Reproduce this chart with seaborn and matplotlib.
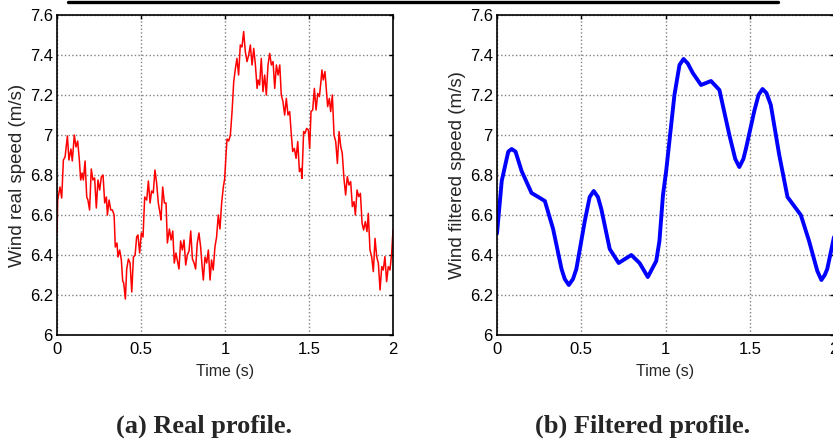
import numpy as np
import pandas as pd
import matplotlib
matplotlib.use("Agg")
import matplotlib.pyplot as plt
import seaborn as sns
from matplotlib.lines import Line2D
from matplotlib.ticker import FormatStrFormatter

# real wind speed profile
time_real = [0.000, 0.004, 0.018, 0.028, 0.038, 0.048, 0.062, 0.071, 0.083, 0.091,
             0.103, 0.113, 0.123, 0.133, 0.141, 0.149, 0.157, 0.167, 0.177, 0.184,
             0.194, 0.204, 0.214, 0.224, 0.234, 0.244, 0.254, 0.264, 0.274, 0.284,
             0.294, 0.300, 0.310, 0.320, 0.330, 0.340, 0.347, 0.357, 0.363, 0.373,
             0.383, 0.391, 0.397, 0.407, 0.415, 0.425, 0.435, 0.445, 0.455, 0.465,
             0.474, 0.482, 0.492, 0.502, 0.512, 0.522, 0.534, 0.544, 0.554, 0.563,
             0.573, 0.583, 0.593, 0.603, 0.613, 0.619, 0.629, 0.639, 0.649, 0.657,
             0.669, 0.679, 0.689, 0.698, 0.708, 0.716, 0.726, 0.736, 0.746, 0.756,
             0.766, 0.776, 0.786, 0.796, 0.806, 0.816, 0.825, 0.835, 0.845, 0.855,
             0.865, 0.871, 0.881, 0.891, 0.901, 0.911, 0.920, 0.930, 0.940, 0.950,
             0.960, 0.970, 0.980, 0.990, 0.998, 1.006, 1.012, 1.022, 1.032, 1.042,
             1.052, 1.062, 1.071, 1.081, 1.091, 1.101, 1.111, 1.121, 1.131, 1.141,
             1.151, 1.161, 1.171, 1.181, 1.191, 1.197, 1.206, 1.216, 1.226, 1.236,
             1.246, 1.256, 1.266, 1.276, 1.286, 1.296, 1.306, 1.316, 1.326, 1.335,
             1.345, 1.355, 1.365, 1.375, 1.385, 1.395, 1.403, 1.413, 1.423, 1.433,
             1.443, 1.453, 1.458, 1.468, 1.476, 1.486, 1.496, 1.504, 1.512, 1.522,
             1.532, 1.542, 1.552, 1.562, 1.571, 1.577, 1.585, 1.595, 1.605, 1.611,
             1.621, 1.629, 1.639, 1.649, 1.659, 1.669, 1.679, 1.689, 1.698, 1.708,
             1.718, 1.728, 1.738, 1.748, 1.758, 1.768, 1.776, 1.786, 1.796, 1.806,
             1.816, 1.825, 1.835, 1.845, 1.853, 1.863, 1.873, 1.883, 1.893, 1.903,
             1.913, 1.923, 1.933, 1.942, 1.952, 1.962, 1.972, 1.982, 1.992, 2.000]
speed_real = [6.51, 6.675, 6.74, 6.685, 6.875, 6.89, 6.995, 6.875, 6.93, 6.87,
              7.00, 6.94, 6.97, 6.875, 6.775, 6.81, 6.775, 6.87, 6.69, 6.675,
              6.625, 6.83, 6.775, 6.785, 6.635, 6.775, 6.725, 6.79, 6.80, 6.66,
              6.69, 6.60, 6.675, 6.625, 6.625, 6.60, 6.44, 6.46, 6.39, 6.425,
              6.375, 6.27, 6.26, 6.18, 6.33, 6.38, 6.36, 6.215, 6.39, 6.40,
              6.49, 6.50, 6.41, 6.51, 6.49, 6.69, 6.675, 6.77, 6.66, 6.72,
              6.71, 6.825, 6.76, 6.66, 6.61, 6.575, 6.74, 6.66, 6.66, 6.46,
              6.53, 6.475, 6.52, 6.36, 6.41, 6.375, 6.33, 6.47, 6.425, 6.475,
              6.35, 6.40, 6.42, 6.52, 6.38, 6.36, 6.33, 6.46, 6.51, 6.44,
              6.33, 6.275, 6.39, 6.36, 6.425, 6.275, 6.375, 6.325, 6.44, 6.49,
              6.60, 6.53, 6.66, 6.74, 6.78, 6.90, 6.98, 6.97, 7.00, 7.117,
              7.267, 7.333, 7.383, 7.30, 7.45, 7.44, 7.517, 7.417, 7.367, 7.40,
              7.45, 7.35, 7.433, 7.35, 7.233, 7.275, 7.25, 7.383, 7.217, 7.30,
              7.20, 7.35, 7.408, 7.35, 7.367, 7.233, 7.35, 7.30, 7.35, 7.20,
              7.167, 7.10, 7.183, 7.10, 7.117, 7.00, 6.917, 6.933, 6.883, 6.967,
              6.817, 6.833, 6.783, 7.017, 7.008, 7.033, 7.025, 6.933, 7.117, 7.125,
              7.233, 7.125, 7.208, 7.192, 7.267, 7.325, 7.275, 7.317, 7.208, 7.142,
              7.183, 7.117, 7.20, 7.00, 6.967, 6.858, 7.017, 6.942, 6.908, 6.783,
              6.70, 6.792, 6.75, 6.767, 6.642, 6.667, 6.60, 6.725, 6.692, 6.708,
              6.558, 6.525, 6.567, 6.517, 6.608, 6.425, 6.392, 6.317, 6.483, 6.392,
              6.358, 6.225, 6.342, 6.325, 6.392, 6.267, 6.342, 6.325, 6.408, 6.525]

# filtered wind speed profile
time_filt = [0.000, 0.028, 0.057, 0.067, 0.087, 0.110, 0.146, 0.205, 0.245, 0.284,
             0.333, 0.383, 0.402, 0.426, 0.451, 0.471, 0.521, 0.550, 0.574, 0.599,
             0.619, 0.669, 0.722, 0.797, 0.846, 0.895, 0.945, 0.964, 0.985, 1.004,
             1.053, 1.083, 1.107, 1.132, 1.162, 1.211, 1.270, 1.320, 1.379, 1.414,
             1.438, 1.462, 1.477, 1.527, 1.552, 1.576, 1.599, 1.625, 1.675, 1.724,
             1.803, 1.852, 1.901, 1.925, 1.945, 1.960, 2.000]
speed_filt = [6.508, 6.77, 6.88, 6.917, 6.93, 6.917, 6.82, 6.71, 6.69, 6.67,
              6.53, 6.33, 6.28, 6.25, 6.28, 6.33, 6.57, 6.69, 6.72, 6.69,
              6.63, 6.43, 6.36, 6.40, 6.36, 6.29, 6.37, 6.47, 6.70, 6.82,
              7.20, 7.35, 7.38, 7.358, 7.31, 7.25, 7.27, 7.225, 7.00, 6.88,
              6.84, 6.88, 6.93, 7.12, 7.20, 7.23, 7.21, 7.15, 6.90, 6.69,
              6.60, 6.47, 6.32, 6.275, 6.30, 6.33, 6.49]

yticks = [6, 6.2, 6.4, 6.6, 6.8, 7, 7.2, 7.4, 7.6]
xticks = [0, 0.5, 1, 1.5, 2]

real_df = pd.DataFrame({"time": time_real, "speed": speed_real})
filt_df = pd.DataFrame({"time": time_filt, "speed": speed_filt})

sns.set_style("white")
plt.rcParams['font.family'] = ['Liberation Sans', 'DejaVu Sans']

fig = plt.figure(figsize=(8.33, 4.41), dpi=100)
ax1 = fig.add_axes([57 / 833, 1 - 335 / 441, 336 / 833, 320 / 441])
ax2 = fig.add_axes([497 / 833, 1 - 335 / 441, 337 / 833, 320 / 441])

sns.lineplot(data=real_df, x="time", y="speed", ax=ax1, color="#ff0000",
             lw=1.1, estimator=None, sort=False)
sns.lineplot(data=filt_df, x="time", y="speed", ax=ax2, color="#0000ff",
             lw=2.8, estimator=None, sort=False)

for ax, ylab in [(ax1, "Wind real speed (m/s)"), (ax2, "Wind filtered speed (m/s)")]:
    ax.set_xlim(0, 2)
    ax.set_ylim(6, 7.6)
    ax.set_xticks(xticks)
    ax.set_yticks(yticks)
    ax.xaxis.set_major_formatter(FormatStrFormatter('%g'))
    ax.yaxis.set_major_formatter(FormatStrFormatter('%g'))
    ax.grid(True, color="#808080", linestyle=":", lw=1.0)
    ax.tick_params(direction="in", top=True, right=True, length=3, width=1,
                   labelsize=12, pad=3, colors="black")
    ax.tick_params(axis="x", pad=5)
    for s in ax.spines.values():
        s.set_visible(True)
        s.set_color("black")
        s.set_linewidth(1.2)
    ax.set_xlabel("Time (s)", fontsize=11.5, labelpad=5)
    ax.set_ylabel(ylab, fontsize=13.5, labelpad=3)

# caption texts
fig.text(204 / 833, 1 - 426 / 441, "(a) Real profile.", ha="center", va="center",
         fontsize=19, fontweight="bold", family="Liberation Serif")
fig.text(643 / 833, 1 - 426 / 441, "(b) Filtered profile.", ha="center", va="center",
         fontsize=19, fontweight="bold", family="Liberation Serif")

# rule at the top
fig.add_artist(Line2D([68 / 833, 778 / 833], [1 - 1.5 / 441, 1 - 1.5 / 441],
                      transform=fig.transFigure, color="black", lw=2.4))

fig.savefig("out.png", dpi=100)
